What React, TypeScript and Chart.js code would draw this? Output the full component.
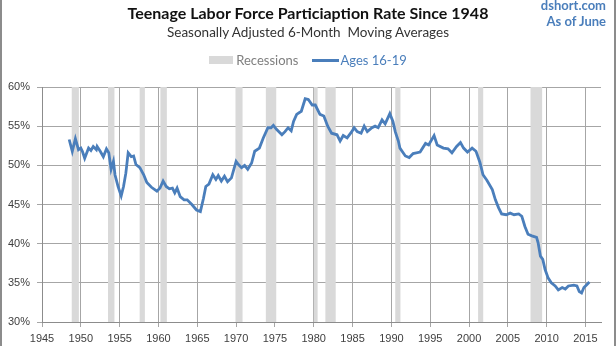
import React, { useEffect, useRef } from "react";
import { Chart, registerables } from "chart.js";

Chart.register(...registerables);

// Decimal year of each reading (6-month moving average)
const years = [
  1948.5, 1948.9, 1949.3, 1949.7, 1950.0, 1950.2, 1950.5, 1951.0, 1951.3, 1951.6,
  1952.0, 1952.1, 1952.5, 1952.9, 1953.3, 1953.6, 1953.9, 1954.2, 1954.4, 1954.8,
  1955.2, 1955.5, 1955.8, 1956.1, 1956.5, 1956.8, 1957.1, 1957.6, 1958.1, 1958.5,
  1959.1, 1959.8, 1960.2, 1960.6, 1961.0, 1961.4, 1961.8, 1962.1, 1962.4, 1962.8,
  1963.3, 1963.7, 1964.3, 1964.9, 1965.4, 1965.8, 1966.1, 1966.5, 1967.0, 1967.4,
  1967.7, 1968.1, 1968.5, 1968.9, 1969.4, 1970.0, 1970.3, 1970.7, 1971.1, 1971.5,
  1972.0, 1972.4, 1973.0, 1973.5, 1974.1, 1974.5, 1974.8, 1975.2, 1975.9, 1976.3,
  1976.7, 1977.1, 1977.4, 1977.8, 1978.4, 1978.9, 1979.3, 1979.8, 1980.2, 1980.8,
  1981.3, 1981.8, 1982.3, 1983.0, 1983.4, 1983.8, 1984.3, 1984.9, 1985.2, 1985.6,
  1986.1, 1986.5, 1986.9, 1987.5, 1987.9, 1988.3, 1988.8, 1989.2, 1989.8, 1990.2,
  1990.5, 1990.9, 1991.1, 1991.8, 1992.3, 1992.8, 1993.7, 1994.4, 1994.8, 1995.5,
  1995.9, 1996.7, 1997.3, 1997.8, 1998.4, 1998.9, 1999.3, 1999.8, 2000.4, 2000.9,
  2001.4, 2001.8, 2002.3, 2003.0, 2003.4, 2003.8, 2004.2, 2004.8, 2005.3, 2005.8,
  2006.4, 2006.8, 2007.2, 2007.6, 2008.1, 2008.7, 2008.9, 2009.2, 2009.5, 2009.8,
  2010.2, 2010.6, 2011.1, 2011.5, 2012.0, 2012.4, 2012.8, 2013.5, 2013.9, 2014.2,
  2014.5, 2014.8, 2015.2, 2015.5,
];

// Teen (16-19) labor force participation rate, %
const teenRate = [
  53.3, 51.8, 53.4, 52.0, 52.2, 51.8, 50.9, 52.2, 51.9, 52.4,
  52.0, 52.4, 51.8, 51.1, 52.1, 51.6, 49.5, 50.5, 48.8, 47.3,
  46.1, 47.3, 49.0, 51.6, 51.1, 51.2, 50.1, 49.7, 48.8, 47.8,
  47.2, 46.7, 47.1, 48.0, 47.3, 47.0, 47.1, 46.5, 47.1, 46.0,
  45.6, 45.6, 45.0, 44.3, 44.1, 45.8, 47.3, 47.6, 48.8, 48.2,
  48.7, 48.0, 48.6, 47.9, 48.4, 50.5, 50.1, 49.7, 50.0, 49.5,
  50.3, 51.8, 52.2, 53.5, 54.8, 54.8, 55.1, 54.6, 53.9, 54.3,
  54.8, 54.4, 55.6, 56.5, 56.9, 58.5, 58.4, 57.7, 57.7, 56.5,
  56.3, 55.0, 54.1, 53.9, 53.1, 53.8, 53.5, 54.3, 54.8, 54.3,
  54.1, 55.0, 54.3, 54.8, 55.0, 54.8, 55.8, 55.3, 56.6, 55.6,
  54.3, 53.1, 52.2, 51.2, 51.0, 51.5, 51.7, 52.8, 52.6, 53.8,
  52.6, 52.2, 52.1, 51.6, 52.4, 52.9, 52.2, 51.7, 52.2, 51.8,
  50.4, 48.8, 48.1, 46.9, 45.6, 44.6, 43.8, 43.7, 43.9, 43.7,
  43.8, 43.5, 42.2, 41.2, 41.0, 40.8, 40.1, 38.4, 38.0, 36.7,
  35.6, 35.0, 34.6, 34.1, 34.4, 34.2, 34.6, 34.7, 34.6, 33.9,
  33.7, 34.4, 34.8, 35.1,
];

// NBER recessions (decimal years)
const recessionStarts = [1948.83, 1953.5, 1957.58, 1960.25, 1969.92, 1973.83, 1980.0, 1981.5, 1990.5, 2001.17, 2007.92];
const recessionEnds = [1949.75, 1954.33, 1958.25, 1961.08, 1970.83, 1975.17, 1980.5, 1982.83, 1991.17, 2001.83, 2009.42];

const xTicks = [1945, 1950, 1955, 1960, 1965, 1970, 1975, 1980, 1985, 1990, 1995, 2000, 2005, 2010, 2015];
const yTicks = [30, 35, 40, 45, 50, 55, 60];

const TITLE = "Teenage Labor Force Particiaption Rate Since 1948";
const SUBTITLE = "Seasonally Adjusted 6-Month  Moving Averages";

const LINE_COLOR = "#4a7ebb";
const BAND_COLOR = "#d9d9d9";
const FONT = "Lato, 'Open Sans', sans-serif";

const recessionPlugin = {
  id: "recessionBands",
  beforeDatasetsDraw(chart: any) {
    const { ctx, chartArea, scales } = chart;
    const xs = scales.x;
    ctx.save();
    ctx.fillStyle = BAND_COLOR;
    recessionStarts.forEach((s, i) => {
      const x0 = xs.getPixelForValue(s);
      const x1 = xs.getPixelForValue(recessionEnds[i]);
      ctx.fillRect(x0, chartArea.top, x1 - x0, chartArea.bottom - chartArea.top);
    });
    ctx.restore();
  },
};

export default function App() {
  const canvasRef = useRef<HTMLCanvasElement | null>(null);

  useEffect(() => {
    document.body.style.margin = "0";
    const canvas = canvasRef.current;
    if (!canvas) return;
    const tickFont = { family: "'Liberation Sans', Arial, sans-serif", size: 11 };
    const chart = new Chart(canvas, {
      type: "line",
      data: {
        datasets: [
          {
            label: "Ages 16-19",
            data: years.map((y, i) => ({ x: y, y: teenRate[i] })),
            borderColor: LINE_COLOR,
            borderWidth: 2.8,
            pointRadius: 0,
            tension: 0,
            fill: false,
          },
        ],
      },
      options: {
        animation: false,
        responsive: true,
        maintainAspectRatio: false,
        layout: { padding: { left: 0, top: 87, right: 15, bottom: 0 } },
        plugins: { legend: { display: false }, tooltip: { enabled: false }, title: { display: false } },
        scales: {
          x: {
            type: "linear",
            min: 1945,
            max: 2017,
            afterBuildTicks: (s: any) => {
              s.ticks = xTicks.map((v) => ({ value: v }));
            },
            afterFit: (s: any) => {
              s.height = 24;
            },
            grid: { color: "#a6a6a6", tickLength: 5, lineWidth: 1 },
            border: { color: "#8c8c8c" },
            ticks: {
              callback: (v: any) => String(v),
              color: "#404040",
              font: tickFont,
              maxRotation: 0,
              autoSkip: false,
              padding: 5,
            },
          },
          y: {
            min: 30,
            max: 60,
            afterBuildTicks: (s: any) => {
              s.ticks = yTicks.map((v) => ({ value: v }));
            },
            afterFit: (s: any) => {
              s.width = 42;
            },
            grid: { color: "#a6a6a6", tickLength: 5, lineWidth: 1 },
            border: { color: "#8c8c8c" },
            ticks: {
              callback: (v: any) => v + "%",
              color: "#404040",
              font: tickFont,
              padding: 7,
            },
          },
        },
      },
      plugins: [recessionPlugin],
    });
    return () => chart.destroy();
  }, []);

  return (
    <div style={{ position: "absolute", left: 0, top: 0, width: 616, height: 346, background: "#fff", fontFamily: FONT }}>
      <canvas ref={canvasRef} />
      <div style={{ position: "absolute", left: 0, top: 0, width: 616, height: 346, boxSizing: "border-box", borderLeft: "2px solid #8c8c8c", borderRight: "2px solid #8c8c8c", pointerEvents: "none" }} />
      <div style={{ position: "absolute", left: 0, top: 3, width: 616, textAlign: "center", fontWeight: 700, fontSize: 16, color: "#111", lineHeight: "20px" }}>{TITLE}</div>
      <div style={{ position: "absolute", left: 0, top: 23, width: 616, textAlign: "center", fontSize: 13.5, color: "#333", lineHeight: "18px", whiteSpace: "pre" }}>{SUBTITLE}</div>
      <div style={{ position: "absolute", right: 10, top: -3, textAlign: "right", fontWeight: 700, fontSize: 13, color: LINE_COLOR, lineHeight: "16px" }}>
        <div>dshort.com</div>
        <div>As of June</div>
      </div>
      <div style={{ position: "absolute", left: 0, top: 52, width: 616, display: "flex", justifyContent: "center", alignItems: "center", fontSize: 13, lineHeight: "16px" }}>
        <span style={{ display: "inline-block", width: 24, height: 8, background: BAND_COLOR, marginRight: 3 }} />
        <span style={{ color: "#7f7f7f", marginRight: 14 }}>Recessions</span>
        <span style={{ display: "inline-block", width: 27, height: 3, background: LINE_COLOR, marginRight: 1 }} />
        <span style={{ color: LINE_COLOR }}>Ages 16-19</span>
      </div>
    </div>
  );
}
